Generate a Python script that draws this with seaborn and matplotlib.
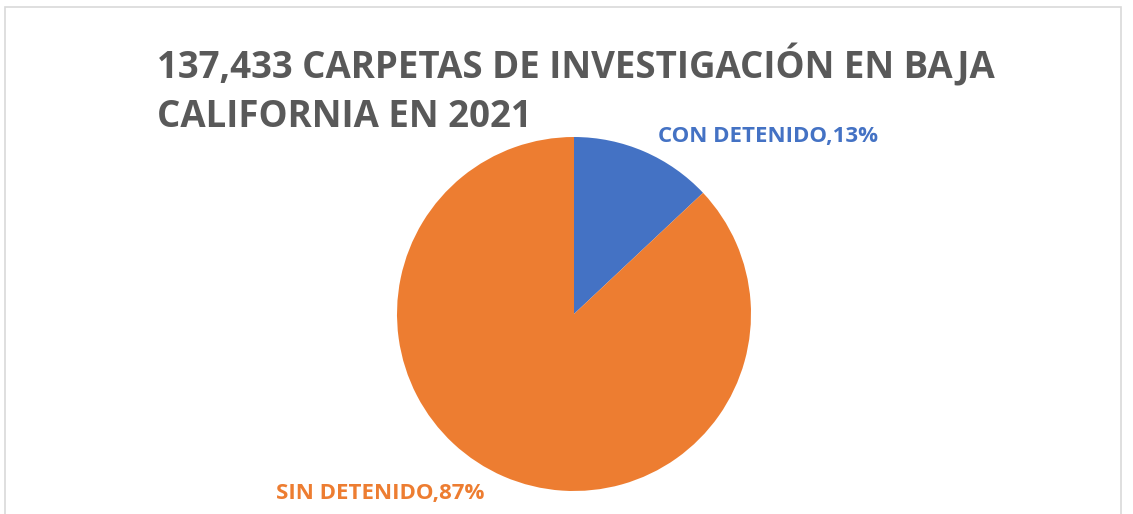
import matplotlib
matplotlib.use("Agg")
import matplotlib.pyplot as plt
import seaborn as sns
from matplotlib.patches import Rectangle

sns.set_theme(style="white")
plt.rcParams["font.family"] = ["Open Sans", "DejaVu Sans"]

# Data
title_lines = ["137,433 CARPETAS DE INVESTIGACIÓN EN BAJA", "CALIFORNIA EN 2021"]
categories = ["CON DETENIDO", "SIN DETENIDO"]
shares = [13, 87]
colors = ["#4472C4", "#ED7D31"]

W, H = 1133, 514
fig = plt.figure(figsize=(W / 100, H / 100), dpi=100)
fig.patch.set_facecolor("white")

# light frame around the chart area
fig.patches.append(Rectangle((5 / W, -0.1), (1121 - 5) / W, 1.1 - 7 / H,
                             transform=fig.transFigure, fill=False,
                             edgecolor="#D9D9D9", linewidth=1.2))

cx, cy, r = 574, 314, 177
ax = fig.add_axes([(cx - r) / W, (H - cy - r) / H, 2 * r / W, 2 * r / H])
ax.pie(shares, colors=colors, startangle=90, counterclock=False,
       wedgeprops=dict(linewidth=0))
ax.set_xlim(-1, 1)
ax.set_ylim(-1, 1)
ax.set_aspect("equal")
ax.axis("off")

# two-line title, one text per line
for line, base in zip(title_lines, [78, 127]):
    fig.text(157 / W, 1 - base / H, line, ha="left", va="baseline",
             fontsize=26.4, fontweight="bold", color="#595959")

label_pos = [(658, 137, "left"), (276, 493, "left")]
for cat, val, col, (x, y, ha) in zip(categories, shares, colors, label_pos):
    fig.text(x / W, 1 - y / H, f"{cat},{val}%", ha=ha, va="center",
             fontsize=16, fontweight="bold", color=col)

fig.savefig("out.png", dpi=100, facecolor="white")
